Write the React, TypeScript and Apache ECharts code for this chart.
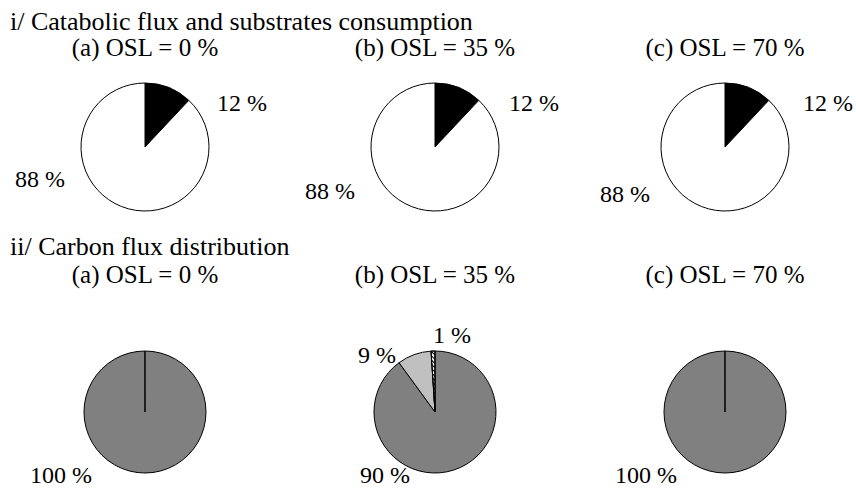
import React, { useEffect, useRef } from "react";
import * as echarts from "echarts";

// ---- data ----
const rowTitles = ["i/ Catabolic flux and substrates consumption", "ii/ Carbon flux distribution"];
const oslTitles = ["(a) OSL = 0 %", "(b) OSL = 35 %", "(c) OSL = 70 %"];
const catabolicNames = ["Catabolic flux", "Substrates consumption"];
const catabolicValues = [
  [12, 88],
  [12, 88],
  [12, 88],
];
const carbonNames = ["Flux A", "Flux B", "Flux C"];
const carbonValues = [[100], [90, 9, 1], [100]];

// ---- layout ----
const FONT = "'Liberation Serif', 'Times New Roman', serif";
const colX = [145, 435, 725];
const topY = 147;
const topR = 64;
const botY = 412;
const botR = 61;
const titleY = [21, 246];
const subY = [47, 274];
// label anchor positions (left x, middle y) per pie per slice
const topLabelPos = [
  [[217, 103], [15, 179]],
  [[509, 103], [305, 191]],
  [[803, 103], [600, 194]],
];
const botLabelPos = [
  [[30, 475]],
  [[360, 475], [358, 355], [433, 335]],
  [[615, 475]],
];

const topColors = ["#000000", "#ffffff"];
const botColors = ["#808080", "#c0c0c0", "#ffffff"];

export default function App() {
  const ref = useRef<HTMLDivElement>(null);
  useEffect(() => {
    if (!ref.current) return;
    const chart = echarts.init(ref.current, null, { renderer: "svg" });

    const labelStyle = {
      show: true,
      formatter: "{c} %",
      fontFamily: FONT,
      fontSize: 24,
      color: "#000",
    };

    const series: any[] = [];
    catabolicValues.forEach((vals, i) => {
      series.push({
        type: "pie",
        silent: true,
        center: [colX[i], topY],
        radius: topR,
        startAngle: 90,
        clockwise: true,
        label: labelStyle,
        labelLine: { show: false },
        labelLayout: (p: any) => ({
          x: topLabelPos[i][p.dataIndex][0],
          y: topLabelPos[i][p.dataIndex][1],
          align: "left",
          verticalAlign: "middle",
        }),
        data: vals.map((v, k) => ({
          name: catabolicNames[k],
          value: v,
          itemStyle: { color: topColors[k], borderColor: "#000", borderWidth: 1 },
        })),
      });
    });
    carbonValues.forEach((vals, i) => {
      series.push({
        type: "pie",
        silent: true,
        center: [colX[i], botY],
        radius: botR,
        startAngle: 90,
        endAngle: 90 - 359.9,
        clockwise: true,
        label: labelStyle,
        labelLine: { show: false },
        labelLayout: (p: any) => ({
          x: botLabelPos[i][p.dataIndex][0],
          y: botLabelPos[i][p.dataIndex][1],
          align: "left",
          verticalAlign: "middle",
        }),
        data: vals.map((v, k) => {
          const colorIdx = vals.length === 1 ? 0 : k;
          const item: any = {
            name: carbonNames[k],
            value: v,
            itemStyle: { color: botColors[colorIdx], borderColor: "#000", borderWidth: 1 },
          };
          if (colorIdx === 2) {
            item.itemStyle.decal = {
              symbol: "rect",
              symbolSize: 1,
              color: "#000",
              backgroundColor: "#fff",
              dashArrayX: [1, 0],
              dashArrayY: [1, 2],
              rotation: Math.PI / 4,
            };
          }
          return item;
        }),
      });
    });

    const graphic: any[] = [];
    rowTitles.forEach((t, r) => {
      graphic.push({
        type: "text",
        left: 10,
        y: titleY[r],
        style: {
          text: t,
          fontFamily: FONT,
          fontSize: 26,
          fill: "#000",
          verticalAlign: "middle",
        },
      });
      oslTitles.forEach((s, c) => {
        graphic.push({
          type: "text",
          x: colX[c],
          y: subY[r],
          style: {
            text: s,
            fontFamily: FONT,
            fontSize: 25,
            fill: "#000",
            align: "center",
            verticalAlign: "middle",
          },
        });
      });
    });

    chart.setOption({
      animation: false,
      backgroundColor: "#ffffff",
      textStyle: { fontFamily: FONT },
      series,
      graphic,
    });
    return () => chart.dispose();
  }, []);

  return (
    <div
      ref={ref}
      style={{ position: "fixed", left: 0, top: 0, width: 856, height: 488, background: "#fff" }}
    />
  );
}
